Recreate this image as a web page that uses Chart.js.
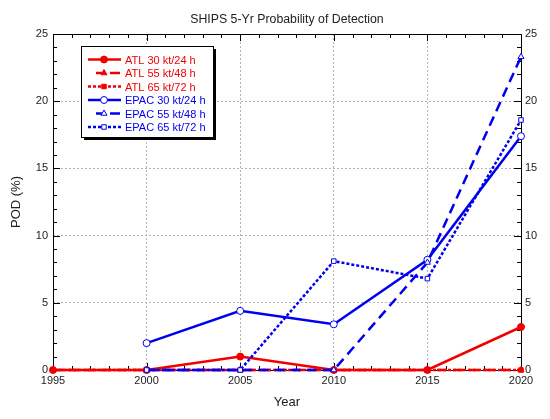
<!DOCTYPE html>
<html>
<head>
<meta charset="utf-8">
<script src="https://cdn.jsdelivr.net/npm/chart.js@4"></script>
<style>
  html, body { margin: 0; padding: 0; background: #fff; }
  #wrap { width: 550px; height: 419px; position: relative; }
</style>
</head>
<body>
<div id="wrap"><canvas id="pod-chart"></canvas></div>
<script>
	/* SHIPS 5-yr POD chart */
	const years = [1995, 2000, 2005, 2010, 2015, 2020];
	const atl_30 = [0, 0, 1.0, 0, 0, 3.2];
	const atl_55 = [0, 0, 0, 0, 0, 0];
	const atl_65 = [0, 0, 0, 0, 0, 0];
	const epac_30 = [null, 2.0, 4.4, 3.4, 8.2, 17.4];
	const epac_55 = [null, 0, 0, 0, 8.0, 23.3];
	const epac_65 = [null, 0, 0, 8.1, 6.8, 18.6];
	const series_labels = ['ATL 30 kt/24 h', 'ATL 55 kt/48 h', 'ATL 65 kt/72 h',
		'EPAC 30 kt/24 h', 'EPAC 55 kt/48 h', 'EPAC 65 kt/72 h'];

	const RED = '#f20000', BLUE = '#0000ee';
	const FONT = 'Liberation Sans, Arial, sans-serif';

	let styles = [
		{ color: RED, dash: [], point: 'circle', fill: RED },
		{ color: RED, dash: [10, 6], point: 'triangle', fill: RED },
		{ color: RED, dash: [3, 2], point: 'rect', fill: RED },
		{ color: BLUE, dash: [], point: 'circle', fill: '#fff' },
		{ color: BLUE, dash: [10, 6], point: 'triangle', fill: '#fff' },
		{ color: BLUE, dash: [3, 2], point: 'rect', fill: '#fff' }
	];
	let all_values = [atl_30, atl_55, atl_65, epac_30, epac_55, epac_65];

	let datasets = all_values.map((vals, i) => ({
		label: series_labels[i],
		data: years.map((y, j) => ({ x: y, y: vals[j] })),
		borderColor: styles[i].color,
		borderWidth: 2.5,
		borderDash: styles[i].dash,
		pointStyle: styles[i].point,
		pointRadius: styles[i].point === 'rect' ? 3.2 : 3.5,
		pointBorderWidth: 1,
		pointBorderColor: styles[i].color,
		pointBackgroundColor: styles[i].fill,
		tension: 0,
		spanGaps: false,
		clip: false,
		order: 6 - i
	}));

	const framePlugin = {
		id: 'frame',
		beforeDatasetsDraw(chart) {
			let ctx = chart.ctx, a = chart.chartArea;
			let xs = chart.scales.x, ys = chart.scales.y;
			ctx.save();
			ctx.strokeStyle = '#000';
			ctx.lineWidth = 1;
			ctx.beginPath();
			for (let v = 1995; v <= 2020; v++) {
				let px = Math.round(xs.getPixelForValue(v)) + 0.5;
				let len = v % 5 === 0 ? 7 : 4;
				ctx.moveTo(px, a.bottom); ctx.lineTo(px, a.bottom - len);
				ctx.moveTo(px, a.top); ctx.lineTo(px, a.top + len);
			}
			for (let v = 0; v <= 25; v++) {
				let py = Math.round(ys.getPixelForValue(v)) + 0.5;
				let len = v % 5 === 0 ? 7 : 4;
				ctx.moveTo(a.left, py); ctx.lineTo(a.left + len, py);
				ctx.moveTo(a.right, py); ctx.lineTo(a.right - len, py);
			}
			ctx.stroke();
			ctx.strokeRect(Math.round(a.left) + 0.5, Math.round(a.top) + 0.5,
				Math.round(a.right - a.left), Math.round(a.bottom - a.top));
			ctx.restore();
		},
		afterDraw(chart) {
			let ctx = chart.ctx, a = chart.chartArea;
			ctx.save();
			// title
			ctx.fillStyle = '#222';
			ctx.font = '12.3px ' + FONT;
			ctx.textAlign = 'center';
			ctx.textBaseline = 'middle';
			ctx.fillText('SHIPS 5-Yr Probability of Detection', (a.left + a.right) / 2, 20);

			// legend box
			let bx = 81, by = 46, bw = 132, bh = 91;
			ctx.fillStyle = '#000';
			ctx.fillRect(bx + 3, by + 3, bw, bh);
			ctx.fillStyle = '#fff';
			ctx.fillRect(bx, by, bw, bh);
			ctx.strokeStyle = '#000';
			ctx.lineWidth = 1;
			ctx.strokeRect(bx + 0.5, by + 0.5, bw, bh);

			ctx.font = '11px ' + FONT;
			ctx.textAlign = 'left';
			styles.forEach((s, i) => {
				let ry = 59.5 + i * 13.5;
				ctx.strokeStyle = s.color;
				ctx.lineWidth = 2.5;
				ctx.beginPath();
				if (s.dash.length && s.dash[0] > 5) {
					ctx.moveTo(96, ry); ctx.lineTo(102, ry);
					ctx.moveTo(110, ry); ctx.lineTo(120, ry);
				} else {
					ctx.setLineDash(s.dash);
					ctx.moveTo(88, ry); ctx.lineTo(121, ry);
				}
				ctx.stroke();
				ctx.setLineDash([]);
				ctx.lineWidth = 1;
				ctx.fillStyle = s.fill;
				Chart.helpers.drawPoint(ctx, {
					pointStyle: s.point, radius: s.point === 'rect' ? 3.2 : 3.5,
					rotation: 0, borderWidth: 1
				}, 104, ry);
				ctx.fillStyle = s.color;
				ctx.fillText(series_labels[i], 125, ry + 1);
			});
			ctx.restore();
		}
	};

	let ctx = document.getElementById('pod-chart').getContext('2d');
	let pod_chart = new Chart(ctx, {
		type: 'line',
		data: { datasets: datasets },
		options: {
			responsive: true,
			maintainAspectRatio: false,
			animation: false,
			layout: { padding: { top: 34, left: 0, right: 0, bottom: 0 } },
			plugins: {
				legend: { display: false },
				tooltip: { enabled: false }
			},
			scales: {
				x: {
					type: 'linear',
					min: 1995, max: 2020,
					afterFit: s => { s.height = 49; },
					grid: { color: '#b4b4b4', drawTicks: false },
					border: { display: false, dash: [2, 2] },
					ticks: {
						stepSize: 5, padding: 4, color: '#222',
						font: { family: FONT, size: 11 },
						callback: v => String(v)
					},
					title: {
						display: true, text: 'Year', color: '#222',
						font: { family: FONT, size: 13 },
						padding: { top: 0, bottom: 9 }
					}
				},
				y: {
					position: 'left',
					min: 0, max: 25,
					afterFit: s => { s.width = 53; },
					grid: { color: '#b4b4b4', drawTicks: false },
					border: { display: false, dash: [2, 2] },
					ticks: { stepSize: 5, padding: 5, color: '#222', font: { family: FONT, size: 11 } },
					title: {
						display: true, text: 'POD (%)', color: '#222',
						font: { family: FONT, size: 13 },
						padding: { top: 9, bottom: 0 }
					}
				},
				y2: {
					position: 'right',
					min: 0, max: 25,
					afterFit: s => { s.width = 29; },
					grid: { display: false, drawTicks: false },
					border: { display: false },
					ticks: { stepSize: 5, padding: 4, color: '#222', font: { family: FONT, size: 11 } }
				}
			}
		},
		plugins: [framePlugin]
	});
</script>
</body>
</html>
